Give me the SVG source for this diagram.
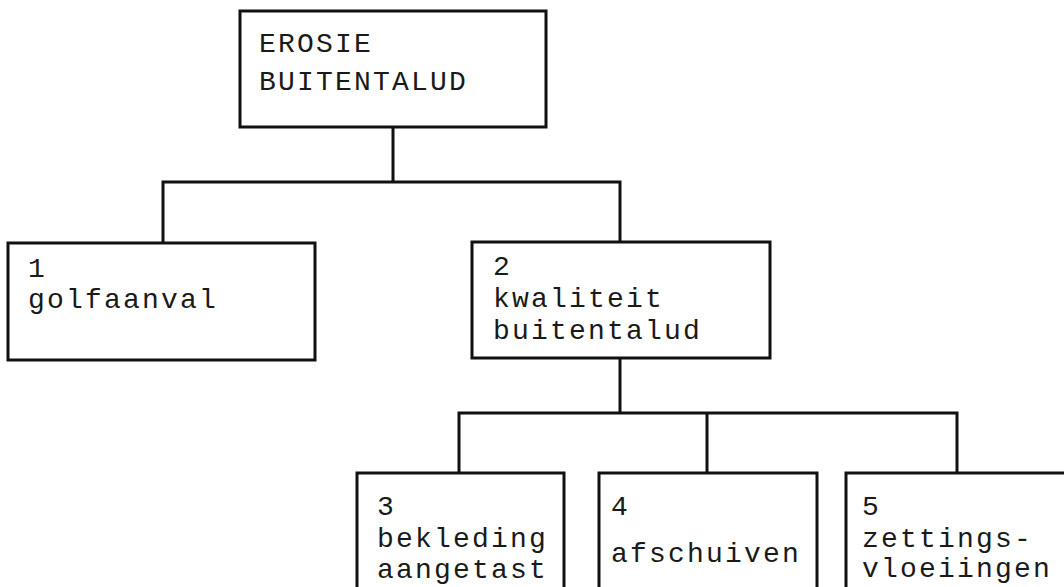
<svg xmlns="http://www.w3.org/2000/svg" width="1064" height="587" viewBox="0 0 1064 587">
<style>
.box{fill:#fff;stroke:#111;stroke-width:3}
.con{fill:none;stroke:#111;stroke-width:3;stroke-linecap:square}
text{font-family:"Liberation Mono","DejaVu Sans Mono",monospace;font-size:28px;letter-spacing:2.2px;fill:#1a1a1a}
</style>
<rect width="1064" height="587" fill="#fff"/>
<g id="connectors">
<path class="con" d="M393 127V182M163 182H620M163 182V243M620 182V242"/>
<path class="con" d="M620 358V413M459 413H957M459 413V473M707 413V473M957 413V473"/>
</g>
<g id="node-top">
<rect class="box" x="240" y="11" width="306" height="116"/>
<text x="259" y="52">EROSIE</text>
<text x="259" y="90">BUITENTALUD</text>
</g>
<g id="node-1">
<rect class="box" x="8" y="243" width="307" height="117"/>
<text x="28" y="277">1</text>
<text x="28" y="308">golfaanval</text>
</g>
<g id="node-2">
<rect class="box" x="472" y="242" width="298" height="116"/>
<text x="493" y="275">2</text>
<text x="493" y="307">kwaliteit</text>
<text x="493" y="339">buitentalud</text>
</g>
<g id="node-3">
<rect class="box" x="357" y="473" width="207" height="130"/>
<text x="377" y="515">3</text>
<text x="377" y="547">bekleding</text>
<text x="377" y="578">aangetast</text>
</g>
<g id="node-4">
<rect class="box" x="599" y="473" width="218" height="130"/>
<text x="611" y="515">4</text>
<text x="611" y="562">afschuiven</text>
</g>
<g id="node-5">
<rect class="box" x="846" y="473" width="230" height="130"/>
<text x="862" y="515">5</text>
<text x="862" y="547">zettings-</text>
<text x="862" y="577">vloeiingen</text>
</g>
</svg>
